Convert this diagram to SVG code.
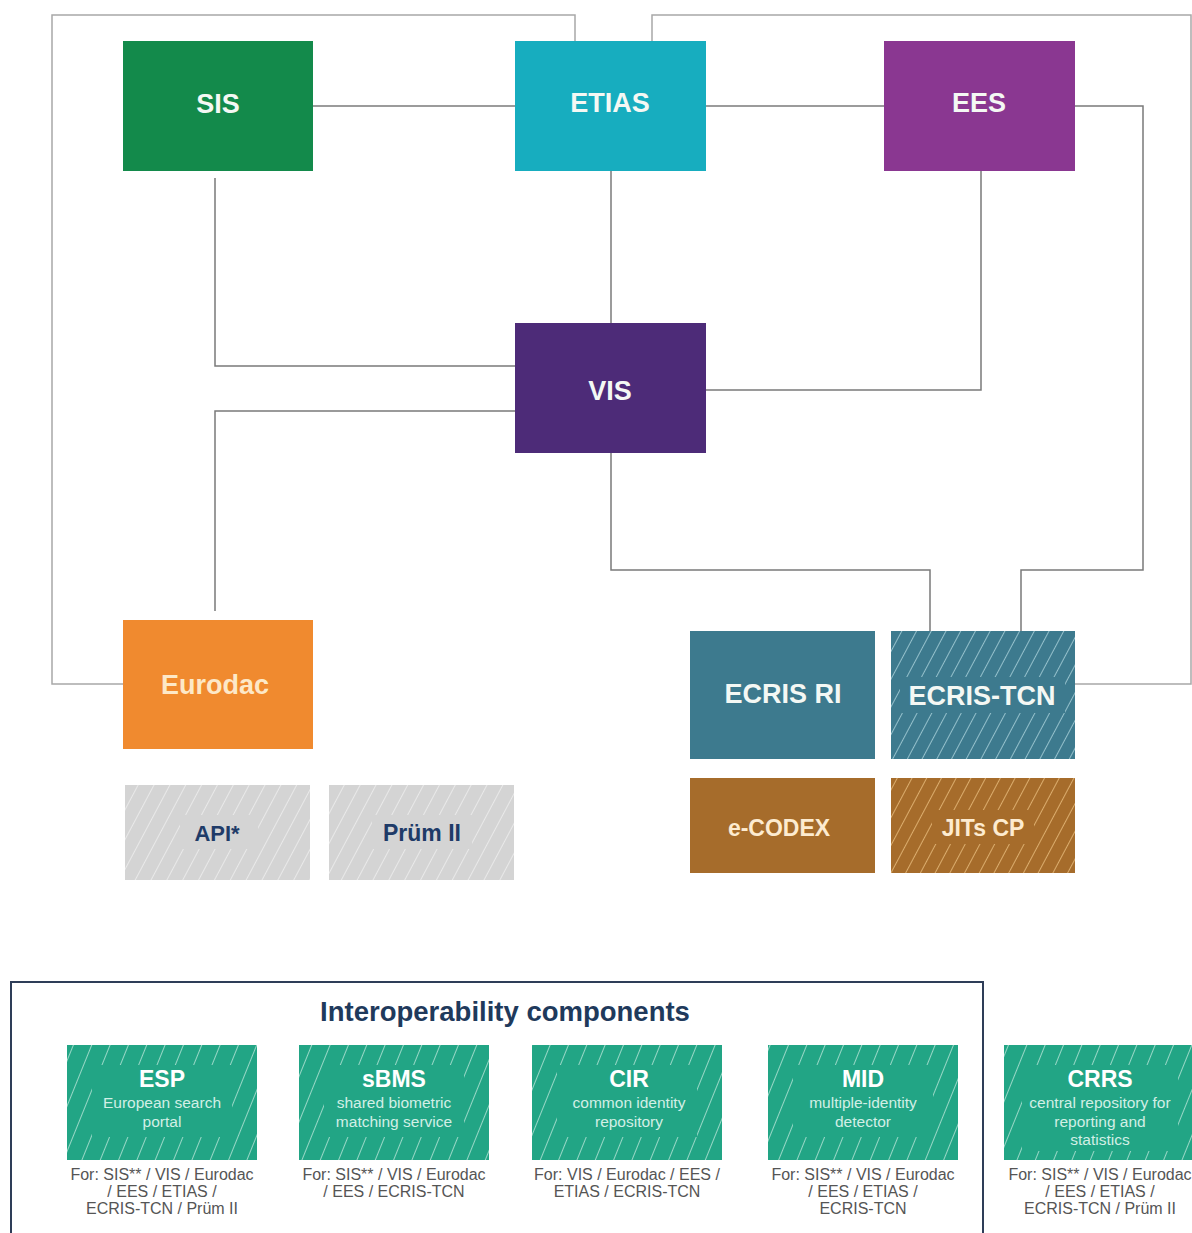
<svg xmlns="http://www.w3.org/2000/svg" width="1192" height="1233" viewBox="0 0 1192 1233">
<style>
.lbl{font-family:"Liberation Sans",Arial,sans-serif;font-weight:bold;text-anchor:middle;fill:#f4f8f4}
.big{font-size:27px}
.conn{fill:none;stroke:#7a7a7a;stroke-width:1.5}
.outer{fill:none;stroke:#a8a8a8;stroke-width:1.5}
.ct{font-family:"Liberation Sans",Arial,sans-serif;font-weight:bold;font-size:23px;text-anchor:middle;fill:#ffffff}
.cs{font-family:"Liberation Sans",Arial,sans-serif;font-size:15.5px;text-anchor:middle;fill:#d2efe6}
.cf{font-family:"Liberation Sans",Arial,sans-serif;font-size:16px;text-anchor:middle;fill:#555}
</style>
<defs>
<pattern id="hatchW" width="13" height="13" patternUnits="userSpaceOnUse" patternTransform="rotate(28)">
<line x1="0" y1="0" x2="0" y2="13" stroke="#cfeff5" stroke-width="1.4" opacity="0.85"/>
</pattern>
<pattern id="hatchY" width="13" height="13" patternUnits="userSpaceOnUse" patternTransform="rotate(28)">
<line x1="0" y1="0" x2="0" y2="13" stroke="#f2c98a" stroke-width="1.4"/>
</pattern>
<pattern id="hatchG" width="14" height="14" patternUnits="userSpaceOnUse" patternTransform="rotate(28)">
<line x1="0" y1="0" x2="0" y2="14" stroke="#f2f2f2" stroke-width="1.4"/>
</pattern>
<pattern id="hatchC" width="17" height="17" patternUnits="userSpaceOnUse" patternTransform="rotate(22)">
<line x1="0" y1="0" x2="0" y2="17" stroke="#d8f3ea" stroke-width="1.3"/>
</pattern>
</defs>

<g id="connectors">
<polyline class="outer" points="123,684 52,684 52,15 575,15 575,41"/>
<polyline class="outer" points="652,41 652,15 1191,15 1191,684 1075,684"/>
<line class="conn" x1="313" y1="106" x2="515" y2="106"/>
<line class="conn" x1="706" y1="106" x2="884" y2="106"/>
<polyline class="conn" points="1075,106 1143,106 1143,570 1021,570 1021,631"/>
<polyline class="conn" points="215,178 215,366 515,366"/>
<line class="conn" x1="611" y1="171" x2="611" y2="323"/>
<polyline class="conn" points="981,171 981,390 706,390"/>
<polyline class="conn" points="515,411 215,411 215,611"/>
<polyline class="conn" points="611,453 611,570 930,570 930,631"/>
</g>

<g id="sis"><rect x="123" y="41" width="190" height="130" fill="#138a4b"/><text class="lbl big" x="218" y="113">SIS</text></g>
<g id="etias"><rect x="515" y="41" width="191" height="130" fill="#17adbf"/><text class="lbl big" x="610" y="112">ETIAS</text></g>
<g id="ees"><rect x="884" y="41" width="191" height="130" fill="#8a3791"/><text class="lbl big" x="979" y="112">EES</text></g>
<g id="vis"><rect x="515" y="323" width="191" height="130" fill="#4d2b78"/><text class="lbl big" x="610" y="400">VIS</text></g>
<g id="eurodac"><rect x="123" y="620" width="190" height="129" fill="#f08a2f"/><text class="lbl big" x="215" y="694" style="fill:#fde8c8">Eurodac</text></g>
<g id="ecris-ri"><rect x="690" y="631" width="185" height="128" fill="#3d7a8e"/><text class="lbl big" x="783" y="703">ECRIS RI</text></g>
<g id="ecris-tcn"><rect x="891" y="631" width="184" height="128" fill="#3d7a8e"/><rect x="891" y="631" width="184" height="128" fill="url(#hatchW)"/><rect x="900" y="677" width="165" height="36" fill="#3d7a8e"/><text class="lbl big" x="982" y="705">ECRIS-TCN</text></g>
<g id="e-codex"><rect x="690" y="778" width="185" height="95" fill="#a66c2b"/><text class="lbl" x="779" y="836" font-size="23" style="fill:#fdebd0">e-CODEX</text></g>
<g id="jits-cp"><rect x="891" y="778" width="184" height="95" fill="#a66c2b"/><rect x="891" y="778" width="184" height="95" fill="url(#hatchY)"/><rect x="932" y="810" width="102" height="34" fill="#a66c2b"/><text class="lbl" x="983" y="836" font-size="23" style="fill:#fdebd0">JITs CP</text></g>
<g id="api"><rect x="125" y="785" width="185" height="95" fill="#d4d4d4"/><rect x="125" y="785" width="185" height="95" fill="url(#hatchG)"/><rect x="180" y="815" width="78" height="34" fill="#d4d4d4"/><text class="lbl" x="217" y="841" font-size="22" style="fill:#1f3b68">API*</text></g>
<g id="prum"><rect x="329" y="785" width="185" height="95" fill="#d4d4d4"/><rect x="329" y="785" width="185" height="95" fill="url(#hatchG)"/><rect x="372" y="815" width="100" height="34" fill="#d4d4d4"/><text class="lbl" x="422" y="841" font-size="23" style="fill:#1f3b68">Prüm II</text></g>

<g id="interop-frame">
<polyline points="11,1240 11,982 983,982 983,1240" fill="none" stroke="#2e3d58" stroke-width="2"/>
<text x="505" y="1021" font-family="'Liberation Sans',Arial,sans-serif" font-weight="bold" font-size="27.5" text-anchor="middle" fill="#1f3a5c">Interoperability components</text>
</g>

<g id="esp">
<rect x="67" y="1045" width="190" height="115" fill="#22a585"/><rect x="67" y="1045" width="190" height="115" fill="url(#hatchC)"/><rect x="92" y="1065" width="140" height="72" fill="#22a585"/>
<text class="ct" x="162" y="1087">ESP</text>
<text class="cs" x="162" y="1108">European search</text><text class="cs" x="162" y="1127">portal</text>
<text class="cf" x="162" y="1180">For: SIS** / VIS / Eurodac</text><text class="cf" x="162" y="1197">/ EES / ETIAS /</text><text class="cf" x="162" y="1214">ECRIS-TCN / Prüm II</text>
</g>
<g id="sbms">
<rect x="299" y="1045" width="190" height="115" fill="#22a585"/><rect x="299" y="1045" width="190" height="115" fill="url(#hatchC)"/><rect x="324" y="1065" width="140" height="72" fill="#22a585"/>
<text class="ct" x="394" y="1087">sBMS</text>
<text class="cs" x="394" y="1108">shared biometric</text><text class="cs" x="394" y="1127">matching service</text>
<text class="cf" x="394" y="1180">For: SIS** / VIS / Eurodac</text><text class="cf" x="394" y="1197">/ EES / ECRIS-TCN</text>
</g>
<g id="cir">
<rect x="532" y="1045" width="190" height="115" fill="#22a585"/><rect x="532" y="1045" width="190" height="115" fill="url(#hatchC)"/><rect x="557" y="1065" width="140" height="72" fill="#22a585"/>
<text class="ct" x="629" y="1087">CIR</text>
<text class="cs" x="629" y="1108">common identity</text><text class="cs" x="629" y="1127">repository</text>
<text class="cf" x="627" y="1180">For: VIS / Eurodac / EES /</text><text class="cf" x="627" y="1197">ETIAS / ECRIS-TCN</text>
</g>
<g id="mid">
<rect x="768" y="1045" width="190" height="115" fill="#22a585"/><rect x="768" y="1045" width="190" height="115" fill="url(#hatchC)"/><rect x="793" y="1065" width="140" height="72" fill="#22a585"/>
<text class="ct" x="863" y="1087">MID</text>
<text class="cs" x="863" y="1108">multiple-identity</text><text class="cs" x="863" y="1127">detector</text>
<text class="cf" x="863" y="1180">For: SIS** / VIS / Eurodac</text><text class="cf" x="863" y="1197">/ EES / ETIAS /</text><text class="cf" x="863" y="1214">ECRIS-TCN</text>
</g>
<g id="crrs">
<rect x="1004" y="1045" width="192" height="115" fill="#22a585"/><rect x="1004" y="1045" width="192" height="115" fill="url(#hatchC)"/><rect x="1022" y="1065" width="156" height="86" fill="#22a585"/>
<text class="ct" x="1100" y="1087">CRRS</text>
<text class="cs" x="1100" y="1108">central repository for</text><text class="cs" x="1100" y="1127">reporting and</text><text class="cs" x="1100" y="1145">statistics</text>
<text class="cf" x="1100" y="1180">For: SIS** / VIS / Eurodac</text><text class="cf" x="1100" y="1197">/ EES / ETIAS /</text><text class="cf" x="1100" y="1214">ECRIS-TCN / Prüm II</text>
</g>
</svg>
